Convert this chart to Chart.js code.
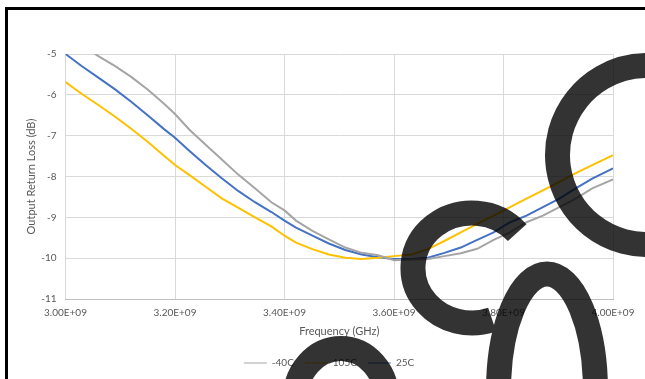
<!DOCTYPE html>
<html>
<head>
<meta charset="utf-8">
<script src="https://cdn.jsdelivr.net/npm/chart.js@4.4.1/dist/chart.umd.min.js"></script>
<style>
  html, body { margin: 0; padding: 0; background: #ffffff; }
  #wrap { position: relative; width: 645px; height: 379px; }
</style>
</head>
<body>
<div id="wrap"><canvas id="c" width="645" height="379"></canvas></div>
<script>
// Frequency points (Hz) shared by all three temperature sweeps
const FREQ_HZ = [
  3.000e9, 3.030e9, 3.060e9, 3.090e9, 3.120e9, 3.150e9, 3.180e9, 3.200e9,
  3.226e9, 3.256e9, 3.286e9, 3.316e9, 3.346e9, 3.376e9, 3.400e9, 3.421e9,
  3.451e9, 3.481e9, 3.511e9, 3.541e9, 3.571e9, 3.600e9, 3.632e9, 3.662e9,
  3.692e9, 3.722e9, 3.752e9, 3.782e9, 3.812e9, 3.842e9, 3.872e9, 3.902e9,
  3.932e9, 3.962e9, 4.000e9
];

// Output return loss (dB) per temperature
const RL_M40C = [
  -4.55, -4.78, -5.05, -5.29, -5.56, -5.87, -6.22, -6.47,
  -6.85, -7.22, -7.59, -7.96, -8.29, -8.63, -8.83, -9.08,
  -9.33, -9.54, -9.74, -9.87, -9.93, -10.05, -10.03, -10.02,
  -9.95, -9.88, -9.77, -9.55, -9.37, -9.12, -8.96, -8.75,
  -8.54, -8.29, -8.07
];
const RL_105C = [
  -5.69, -5.98, -6.25, -6.53, -6.83, -7.15, -7.49, -7.72,
  -7.96, -8.25, -8.54, -8.77, -9.00, -9.22, -9.45, -9.62,
  -9.78, -9.91, -9.99, -10.02, -9.99, -9.95, -9.91, -9.78,
  -9.58, -9.37, -9.16, -8.96, -8.75, -8.54, -8.34, -8.13,
  -7.92, -7.72, -7.48
];
const RL_25C = [
  -5.00, -5.30, -5.58, -5.86, -6.17, -6.50, -6.84, -7.05,
  -7.37, -7.72, -8.05, -8.36, -8.63, -8.87, -9.08, -9.25,
  -9.45, -9.64, -9.80, -9.91, -9.98, -10.02, -10.02, -9.99,
  -9.87, -9.74, -9.55, -9.37, -9.12, -8.96, -8.75, -8.54,
  -8.29, -8.05, -7.80
];

const SERIES_NAMES = ['-40C', '105C', '25C'];
const X_MIN = 3.0e9, X_MAX = 4.0e9, X_STEP = 0.2e9;
const Y_MIN = -11, Y_MAX = -5, Y_STEP = 1;

const toPoints = vals => FREQ_HZ.map((f, i) => ({ x: f, y: vals[i] }));
const fmtHz = v => (v / 1e9).toFixed(2) + 'E+09';

const FONT = 'Lato, "Open Sans", sans-serif';
const TXT = '#595959';

// Heavy dark strokes drawn over the finished chart, plus the page frame
const overlayPlugin = {
  id: 'overlayStrokes',
  afterLayout(chart) {
    // nudge the legend row to the right of the canvas centre
    chart.legend.left += 15;
    chart.legend.right += 15;
  },
  beforeDraw(chart) {
    const ctx = chart.ctx;
    ctx.save();
    ctx.fillStyle = '#ffffff';
    ctx.fillRect(0, 0, chart.width, chart.height);
    ctx.restore();
  },
  afterDraw(chart) {
    const ctx = chart.ctx;
    ctx.save();
    ctx.fillStyle = '#000000';
    ctx.fillRect(5, 7, 3, 372);
    ctx.fillRect(5, 7, 640, 3);

    const D = Math.PI / 180;
    ctx.strokeStyle = 'rgba(0,0,0,0.8)';
    ctx.lineWidth = 25;
    ctx.lineCap = 'butt';
    ctx.beginPath();
    // ring on the right
    let cx = 647, cy = 155, r = 89.5;
    ctx.moveTo(cx + r * Math.cos(60 * D), cy + r * Math.sin(60 * D));
    ctx.arc(cx, cy, r, 60 * D, 300 * D, false);
    // upper bowl
    cx = 472; cy = 268; let rx = 59, ry = 55;
    ctx.moveTo(cx + rx * Math.cos(-40 * D), cy + ry * Math.sin(-40 * D));
    ctx.ellipse(cx, cy, rx, ry, 0, -40 * D, 70 * D, true);
    // lower arch
    cx = 547; cy = 391; rx = 48.5; ry = 117;
    ctx.moveTo(cx - rx, cy);
    ctx.ellipse(cx, cy, rx, ry, 0, Math.PI, 2 * Math.PI, false);
    // arch at the bottom left
    cx = 341; cy = 400; rx = 46; ry = 51.5;
    ctx.moveTo(cx - rx, cy);
    ctx.ellipse(cx, cy, rx, ry, 0, Math.PI, 2 * Math.PI, false);
    ctx.stroke();
    ctx.restore();
  }
};

new Chart(document.getElementById('c'), {
  type: 'line',
  data: {
    datasets: [
      { label: SERIES_NAMES[0], data: toPoints(RL_M40C), borderColor: '#A5A5A5', backgroundColor: '#A5A5A5' },
      { label: SERIES_NAMES[1], data: toPoints(RL_105C), borderColor: '#FFC000', backgroundColor: '#FFC000' },
      { label: SERIES_NAMES[2], data: toPoints(RL_25C), borderColor: '#4472C4', backgroundColor: '#4472C4' }
    ]
  },
  options: {
    responsive: false,
    animation: false,
    devicePixelRatio: 1,
    elements: {
      line: { borderWidth: 2, tension: 0 },
      point: { radius: 0, hoverRadius: 0 }
    },
    layout: { padding: { left: 15, top: 54, right: 32, bottom: 1 } },
    plugins: {
      tooltip: { enabled: false },
      legend: {
        position: 'bottom',
        labels: {
          usePointStyle: true,
          pointStyle: 'line',
          pointStyleWidth: 23,
          padding: 11,
          color: TXT,
          font: { family: FONT, size: 10 }
        }
      }
    },
    scales: {
      x: {
        type: 'linear',
        min: X_MIN, max: X_MAX,
        afterFit: s => { s.height = 48; },
        ticks: {
          stepSize: X_STEP,
          padding: 8,
          maxRotation: 0,
          color: TXT,
          font: { family: FONT, size: 10 },
          callback: v => fmtHz(v)
        },
        grid: { color: '#D9D9D9', drawTicks: false },
        border: { color: '#BFBFBF' },
        title: {
          display: true,
          text: 'Frequency (GHz)',
          color: TXT,
          font: { family: FONT, size: 11 },
          padding: { top: 0, bottom: 9 }
        }
      },
      y: {
        min: Y_MIN, max: Y_MAX,
        afterFit: s => { s.width = 50.5; },
        ticks: {
          stepSize: Y_STEP,
          padding: 9,
          color: TXT,
          font: { family: FONT, size: 10 }
        },
        grid: { color: '#D9D9D9', drawTicks: false },
        border: { display: false },
        title: {
          display: true,
          text: 'Output Return Loss (dB)',
          color: TXT,
          font: { family: FONT, size: 11 },
          padding: { top: 10, bottom: 0 }
        }
      }
    }
  },
  plugins: [overlayPlugin]
});
</script>
</body>
</html>
